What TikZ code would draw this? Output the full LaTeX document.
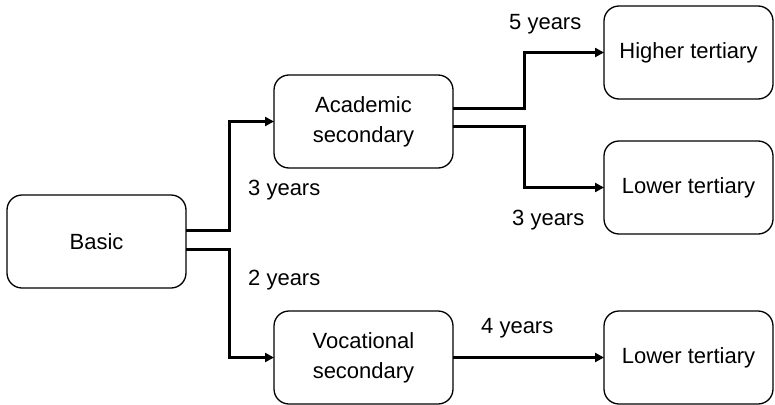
\documentclass[tikz,border=0pt]{standalone}
\usepackage{fontspec}
\setmainfont{Liberation Sans}
\usetikzlibrary{positioning,arrows.meta}

\tikzset{
  stage/.style={draw, rounded corners=15pt, line width=1.3pt,
    minimum width=179pt, minimum height=93pt, inner sep=0pt, outer sep=0pt,
    align=center, font=\fontsize{22}{30}\selectfont},
  end stage/.style={stage, minimum width=169pt},
  route/.style={line width=3pt, -{Triangle[length=9pt,width=9pt]}},
  span/.style={anchor=base west, inner sep=0pt, font=\fontsize{22}{26}\selectfont},
}

\begin{document}
\begin{tikzpicture}[x=1pt,y=1pt]
	\useasboundingbox (0,0) rectangle (775,-404);
	\node[stage] (basic) at (96.5,-241.5) {Basic};
	\node[stage, above right=27pt and 88pt of basic] (acad) {Academic\\secondary};
	\node[stage, below right=23pt and 88pt of basic] (voc) {Vocational\\secondary};
	\node[end stage, right=151pt of acad, yshift=69pt] (higher) {Higher tertiary};
	\node[end stage, right=151pt of acad, yshift=-66pt] (lowerA) {Lower tertiary};
	\node[end stage, right=151pt of voc] (lowerB) {Lower tertiary};
	
	\draw[route] ([yshift=11.5pt]basic.east) -- ++(43,0) |- (acad.west);
	\draw[route] ([yshift=-7.5pt]basic.east) -- ++(43,0) |- (voc.west);
	\draw[route] ([yshift=13.5pt]acad.east) -- ++(71,0) |- (higher.west);
	\draw[route] ([yshift=-4.5pt]acad.east) -- ++(71,0) |- (lowerA.west);
	\draw[route] (voc.east) -- (lowerB.west);
	
	\node[span] (yrsA) at (248,-195) {3 years};
	\node[span] (yrsB) at (248,-285) {2 years};
	\node[span] (yrsC) at (509,-30) {5 years};
	\node[span] (yrsD) at (512,-225) {3 years};
	\node[span] (yrsE) at (481,-333) {4 years};
\end{tikzpicture}
\end{document}
